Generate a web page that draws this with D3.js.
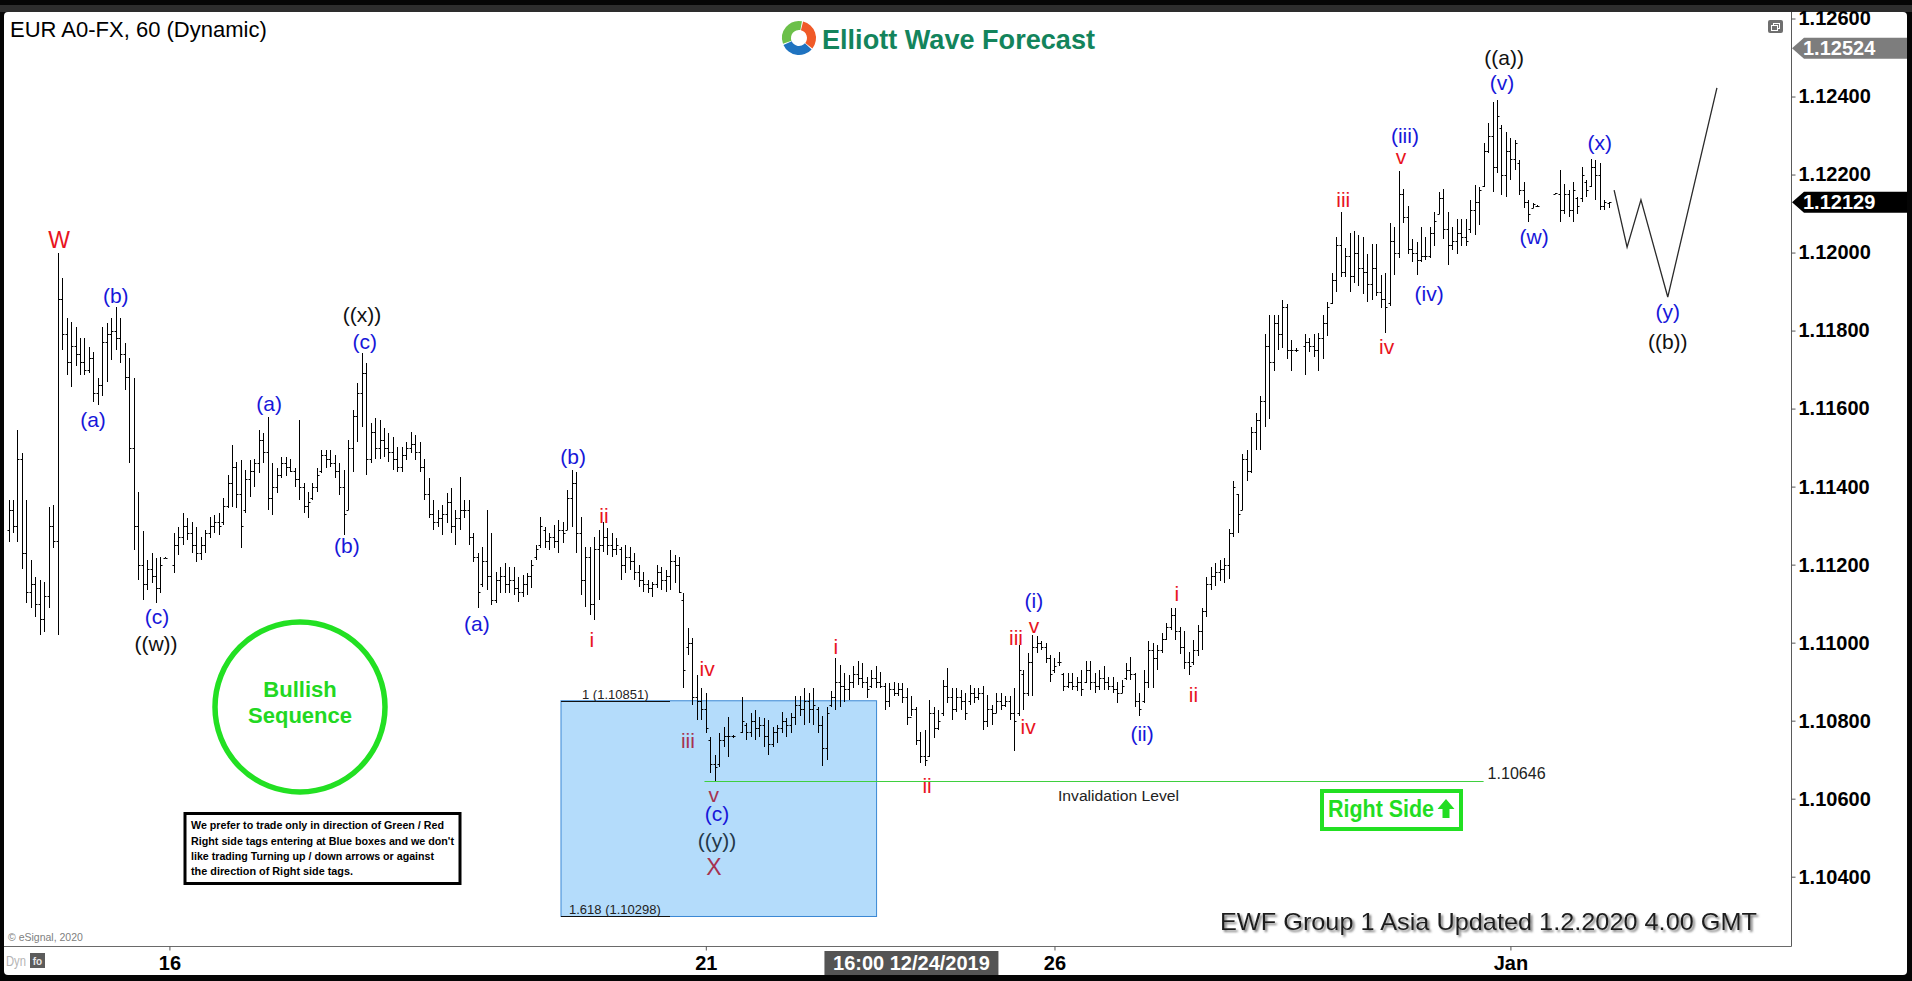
<!DOCTYPE html>
<html>
<head>
<meta charset="utf-8">
<title>EUR A0-FX, 60 (Dynamic)</title>
<script src="https://cdn.jsdelivr.net/npm/d3@7"></script>
<style>
  html, body { margin: 0; padding: 0; background: #000; overflow: hidden; }
  svg { display: block; }
  text { font-family: "Liberation Sans", Arial, sans-serif; }
</style>
</head>
<body>
<svg id="chart" width="1912" height="981"></svg>
<script>
// ---------------- hourly OHLC bars (null = no bar in that slot) ----------------
const barOpen = [
1.11290,1.11340,1.11300,1.11470,1.11230,1.11130,1.11150,1.11100,1.11060,1.11120,
1.11300,1.11260,1.11880,1.11790,1.11720,1.11760,1.11740,1.11720,1.11700,1.11730,
1.11640,1.11660,1.11770,1.11790,1.11800,1.11780,1.11740,1.11680,1.11500,1.11300,
1.11200,1.11150,1.11190,1.11170,1.11140,1.11218,null,1.11200,1.11250,1.11270,
1.11300,1.11280,1.11250,1.11230,1.11250,1.11280,1.11300,1.11310,1.11310,1.11350,
1.11410,1.11450,1.11380,1.11340,1.11420,1.11440,1.11460,1.11520,1.11490,1.11370,
1.11400,1.11430,1.11460,1.11450,1.11440,1.11420,1.11400,1.11350,1.11370,1.11400,
1.11440,1.11480,1.11470,1.11460,1.11440,1.11400,1.11340,1.11500,1.11580,1.11640,
1.11690,1.11470,1.11540,1.11500,1.11520,1.11500,1.11490,1.11470,1.11450,1.11480,
1.11500,1.11510,1.11490,1.11450,1.11380,1.11330,1.11310,1.11320,1.11330,1.11360,
1.11300,1.11320,1.11340,1.11340,1.11270,1.11220,1.11150,1.11210,1.11170,1.11110,
1.11160,1.11170,1.11150,1.11160,1.11140,1.11130,1.11150,1.11170,1.11220,1.11250,
1.11290,1.11260,1.11270,1.11260,1.11290,1.11290,1.11370,1.11410,1.11280,1.11160,
1.11220,1.11100,1.11240,1.11250,1.11270,1.11250,1.11240,1.11240,1.11200,1.11220,
1.11210,1.11180,1.11160,1.11150,1.11140,1.11150,1.11180,1.11160,1.11170,1.11210,
1.11200,1.11110,1.10990,1.11000,1.10860,1.10850,1.10830,1.10750,1.10690,1.10690,
1.10750,1.10760,1.10760,null,1.10770,1.10790,1.10770,1.10800,1.10780,1.10790,
1.10760,1.10740,1.10770,1.10780,1.10800,1.10790,1.10810,1.10840,1.10830,1.10850,
1.10830,1.10830,1.10790,1.10730,1.10840,1.10860,1.10900,1.10890,1.10880,1.10900,
1.10920,1.10910,1.10900,1.10890,1.10910,1.10900,1.10890,1.10850,1.10880,1.10870,
1.10880,1.10860,1.10810,1.10830,1.10750,1.10710,1.10710,1.10820,1.10780,1.10820,
1.10890,1.10860,1.10830,1.10860,1.10850,1.10850,1.10870,1.10860,1.10870,1.10800,
1.10830,1.10820,1.10850,1.10840,1.10850,1.10820,1.10820,1.10920,1.10870,1.10950,
1.10990,1.11000,1.10990,1.10960,1.10930,1.10950,1.10920,1.10890,1.10900,1.10890,
1.10900,1.10900,1.10930,1.10900,1.10890,1.10910,1.10900,1.10890,1.10880,1.10870,
1.10910,1.10930,1.10920,1.10850,1.10850,1.10900,1.10980,1.10960,1.10980,1.11010,
1.11040,1.11070,1.11030,1.10990,1.10950,1.10950,1.10980,1.11030,1.11080,1.11150,
1.11170,1.11180,1.11190,1.11200,1.11280,1.11380,1.11340,1.11470,1.11440,1.11540,
1.11570,1.11620,1.11760,1.11720,1.11820,1.11790,1.11860,1.11750,1.11750,null,
1.11760,1.11770,1.11760,1.11750,1.11780,1.11820,1.11870,1.11930,1.12020,1.11950,
1.11990,1.11940,1.12000,1.11960,1.11950,1.11920,1.11960,1.11900,1.11880,1.11870,
1.12030,1.12000,1.12150,1.12090,1.12010,1.12000,1.11980,1.11990,1.11990,1.12050,
1.12100,1.12140,1.12060,1.12020,1.12030,1.12050,1.12040,1.12060,1.12110,1.12130,
1.12170,1.12260,1.12300,1.12220,1.12320,1.12200,1.12260,1.12240,1.12230,1.12160,
1.12130,1.12115,1.12120,null,null,null,1.12151,1.12150,1.12110,1.12150,
1.12110,1.12140,1.12140,1.12180,1.12170,1.12220,1.12200,1.12120,1.12128
];
const barHigh = [
1.11366,1.11366,1.11545,1.11485,1.11366,1.11212,1.11169,1.11161,1.11156,1.11349,
1.11353,1.11998,1.11934,1.11831,1.11823,1.11810,1.11780,1.11780,1.11759,1.11746,
1.11678,1.11810,1.11819,1.11831,1.11861,1.11831,1.11767,1.11729,1.11678,1.11387,
1.11285,1.11212,1.11229,1.11216,1.11220,1.11220,null,1.11280,1.11297,1.11332,
1.11319,1.11310,1.11297,1.11272,1.11289,1.11323,1.11327,1.11332,1.11370,1.11430,
1.11507,1.11464,1.11468,1.11443,1.11468,1.11472,1.11545,1.11537,1.11579,1.11460,
1.11447,1.11477,1.11477,1.11472,1.11447,1.11571,1.11408,1.11387,1.11408,1.11447,
1.11494,1.11494,1.11494,1.11481,1.11460,1.11443,1.11520,1.11596,1.11665,1.11742,
1.11716,1.11562,1.11575,1.11571,1.11549,1.11537,1.11528,1.11502,1.11502,1.11515,
1.11541,1.11532,1.11515,1.11472,1.11421,1.11366,1.11340,1.11353,1.11383,1.11396,
1.11340,1.11425,1.11366,1.11366,1.11280,1.11229,1.11246,1.11340,1.11280,1.11182,
1.11195,1.11203,1.11195,1.11195,1.11169,1.11173,1.11178,1.11212,1.11250,1.11323,
1.11297,1.11280,1.11302,1.11314,1.11310,1.11391,1.11443,1.11438,1.11323,1.11246,
1.11246,1.11272,1.11289,1.11310,1.11293,1.11280,1.11267,1.11246,1.11250,1.11246,
1.11229,1.11199,1.11182,1.11161,1.11156,1.11199,1.11195,1.11186,1.11237,1.11225,
1.11220,1.11126,1.11037,1.11011,1.10917,1.10883,1.10870,1.10759,1.10712,1.10768,
1.10785,1.10810,1.10763,null,1.10861,1.10793,1.10819,1.10827,1.10810,1.10806,
1.10802,1.10785,1.10789,1.10823,1.10806,1.10819,1.10862,1.10862,1.10883,1.10870,
1.10883,1.10836,1.10811,1.10836,1.10875,1.10960,1.10943,1.10922,1.10918,1.10939,
1.10952,1.10947,1.10913,1.10930,1.10939,1.10926,1.10896,1.10896,1.10900,1.10896,
1.10896,1.10883,1.10862,1.10836,1.10772,1.10776,1.10853,1.10836,1.10828,1.10905,
1.10935,1.10883,1.10883,1.10879,1.10870,1.10892,1.10883,1.10883,1.10888,1.10866,
1.10841,1.10870,1.10870,1.10862,1.10862,1.10883,1.10994,1.10930,1.10973,1.11020,
1.11016,1.11003,1.10999,1.10969,1.10960,1.10977,1.10922,1.10922,1.10922,1.10913,
1.10930,1.10952,1.10952,1.10922,1.10930,1.10939,1.10913,1.10913,1.10900,1.10905,
1.10947,1.10964,1.10922,1.10870,1.10930,1.11003,1.10999,1.10994,1.11024,1.11050,
1.11088,1.11088,1.11040,1.11031,1.10976,1.11006,1.11045,1.11090,1.11169,1.11193,
1.11203,1.11213,1.11218,1.11292,1.11415,1.11381,1.11484,1.11494,1.11553,1.11588,
1.11632,1.11790,1.11839,1.11839,1.11839,1.11878,1.11869,1.11775,1.11755,null,
1.11790,1.11780,1.11790,1.11795,1.11839,1.11874,1.11947,1.12041,1.12105,1.12012,
1.12051,1.12056,1.12046,1.12041,1.11997,1.12021,1.12021,1.11943,1.11947,1.12076,
1.12066,1.12209,1.12164,1.12120,1.12036,1.12026,1.12066,1.12041,1.12066,1.12105,
1.12155,1.12164,1.12105,1.12066,1.12085,1.12085,1.12085,1.12135,1.12174,1.12169,
1.12280,1.12331,1.12387,1.12391,1.12327,1.12310,1.12293,1.12289,1.12237,1.12182,
1.12135,1.12126,1.12122,null,null,null,1.12153,1.12212,1.12177,1.12160,
1.12182,1.12143,1.12220,1.12186,1.12241,1.12237,1.12229,1.12135,1.12130
];
const barLow = [
1.11259,1.11280,1.11259,1.11190,1.11101,1.11088,1.11067,1.11020,1.11028,1.11088,
1.11242,1.11020,1.11750,1.11686,1.11656,1.11708,1.11686,1.11686,1.11690,1.11618,
1.11609,1.11631,1.11669,1.11725,1.11750,1.11716,1.11648,1.11460,1.11237,1.11161,
1.11109,1.11135,1.11152,1.11101,1.11126,1.11216,null,1.11178,1.11225,1.11250,
1.11263,1.11229,1.11208,1.11212,1.11229,1.11267,1.11280,1.11276,1.11302,1.11344,
1.11349,1.11344,1.11242,1.11332,1.11374,1.11400,1.11434,1.11460,1.11340,1.11327,
1.11383,1.11421,1.11426,1.11438,1.11400,1.11366,1.11332,1.11319,1.11366,1.11387,
1.11434,1.11447,1.11451,1.11421,1.11378,1.11276,1.11340,1.11438,1.11515,1.11554,
1.11430,1.11460,1.11472,1.11472,1.11477,1.11464,1.11443,1.11438,1.11438,1.11468,
1.11485,1.11468,1.11438,1.11366,1.11319,1.11289,1.11297,1.11276,1.11306,1.11280,
1.11250,1.11289,1.11319,1.11250,1.11208,1.11088,1.11143,1.11135,1.11096,1.11101,
1.11126,1.11126,1.11126,1.11122,1.11105,1.11118,1.11122,1.11139,1.11212,1.11242,
1.11242,1.11237,1.11242,1.11229,1.11255,1.11289,1.11297,1.11229,1.11122,1.11092,
1.11071,1.11058,1.11109,1.11233,1.11225,1.11220,1.11225,1.11161,1.11178,1.11186,
1.11161,1.11143,1.11131,1.11126,1.11118,1.11139,1.11135,1.11131,1.11135,1.11152,
1.11126,1.10883,1.10968,1.10840,1.10802,1.10802,1.10768,1.10665,1.10646,1.10682,
1.10733,1.10708,1.10755,null,1.10768,1.10750,1.10759,1.10750,1.10759,1.10733,
1.10712,1.10733,1.10742,1.10768,1.10759,1.10768,1.10789,1.10811,1.10789,1.10794,
1.10789,1.10768,1.10683,1.10700,1.10836,1.10828,1.10836,1.10849,1.10853,1.10883,
1.10892,1.10883,1.10858,1.10883,1.10883,1.10883,1.10828,1.10836,1.10862,1.10862,
1.10845,1.10789,1.10811,1.10738,1.10691,1.10683,1.10708,1.10755,1.10776,1.10811,
1.10845,1.10802,1.10823,1.10828,1.10802,1.10841,1.10845,1.10853,1.10776,1.10785,
1.10789,1.10819,1.10828,1.10836,1.10802,1.10721,1.10811,1.10828,1.10862,1.10862,
1.10973,1.10982,1.10947,1.10900,1.10922,1.10939,1.10875,1.10883,1.10879,1.10875,
1.10862,1.10896,1.10879,1.10870,1.10879,1.10879,1.10879,1.10870,1.10845,1.10870,
1.10905,1.10905,1.10836,1.10811,1.10845,1.10883,1.10883,1.10930,1.10973,1.11007,
1.11033,1.11007,1.10971,1.10932,1.10917,1.10942,1.10966,1.10981,1.11065,1.11134,
1.11144,1.11159,1.11154,1.11164,1.11272,1.11282,1.11341,1.11415,1.11435,1.11494,
1.11494,1.11553,1.11573,1.11696,1.11750,1.11755,1.11726,1.11696,1.11745,null,
1.11686,1.11745,1.11731,1.11696,1.11726,1.11785,1.11869,1.11898,1.11938,1.11938,
1.11898,1.11923,1.11913,1.11893,1.11874,1.11878,1.11888,1.11859,1.11795,1.11864,
1.11943,1.11987,1.12076,1.11997,1.11977,1.11943,1.11977,1.11982,1.11987,1.12016,
1.12100,1.12036,1.11967,1.12007,1.11997,1.12016,1.12016,1.12051,1.12046,1.12071,
1.12169,1.12254,1.12156,1.12203,1.12148,1.12143,1.12186,1.12212,1.12148,1.12113,
1.12079,1.12113,1.12118,null,null,null,1.12150,1.12079,1.12100,1.12092,
1.12079,1.12100,1.12130,1.12143,1.12169,1.12135,1.12109,1.12109,1.12113
];
const barClose = [
1.11340,1.11300,1.11470,1.11230,1.11130,1.11150,1.11100,1.11060,1.11120,1.11300,
1.11260,1.11880,1.11790,1.11720,1.11760,1.11740,1.11720,1.11700,1.11730,1.11640,
1.11660,1.11770,1.11790,1.11800,1.11780,1.11740,1.11680,1.11500,1.11300,1.11200,
1.11150,1.11190,1.11170,1.11140,1.11200,1.11218,null,1.11250,1.11270,1.11300,
1.11280,1.11250,1.11230,1.11250,1.11280,1.11300,1.11310,1.11300,1.11350,1.11410,
1.11450,1.11380,1.11300,1.11420,1.11440,1.11460,1.11520,1.11490,1.11370,1.11400,
1.11430,1.11460,1.11450,1.11440,1.11420,1.11400,1.11350,1.11360,1.11400,1.11430,
1.11480,1.11470,1.11460,1.11440,1.11400,1.11330,1.11500,1.11580,1.11640,1.11690,
1.11470,1.11540,1.11500,1.11520,1.11500,1.11490,1.11470,1.11450,1.11480,1.11500,
1.11510,1.11490,1.11450,1.11380,1.11330,1.11310,1.11320,1.11330,1.11360,1.11300,
1.11320,1.11340,1.11340,1.11270,1.11220,1.11130,1.11210,1.11170,1.11110,1.11160,
1.11170,1.11150,1.11160,1.11140,1.11130,1.11150,1.11170,1.11200,1.11240,1.11300,
1.11260,1.11270,1.11260,1.11290,1.11280,1.11370,1.11410,1.11280,1.11160,1.11220,
1.11100,1.11240,1.11250,1.11270,1.11250,1.11240,1.11250,1.11200,1.11220,1.11210,
1.11180,1.11160,1.11150,1.11140,1.11150,1.11180,1.11160,1.11170,1.11210,1.11200,
1.11130,1.10930,1.11000,1.10860,1.10850,1.10830,1.10780,1.10690,1.10680,1.10750,
1.10760,1.10760,1.10760,null,1.10800,1.10770,1.10800,1.10780,1.10790,1.10760,
1.10740,1.10770,1.10780,1.10800,1.10790,1.10810,1.10840,1.10830,1.10850,1.10830,
1.10840,1.10790,1.10730,1.10820,1.10860,1.10900,1.10890,1.10880,1.10900,1.10920,
1.10910,1.10900,1.10880,1.10910,1.10900,1.10890,1.10850,1.10880,1.10870,1.10880,
1.10860,1.10810,1.10830,1.10750,1.10710,1.10700,1.10820,1.10780,1.10800,1.10890,
1.10860,1.10830,1.10860,1.10850,1.10820,1.10870,1.10860,1.10870,1.10800,1.10830,
1.10820,1.10850,1.10840,1.10850,1.10820,1.10800,1.10930,1.10870,1.10950,1.10990,
1.11000,1.10990,1.10960,1.10920,1.10940,1.10950,1.10890,1.10900,1.10890,1.10900,
1.10880,1.10930,1.10900,1.10890,1.10910,1.10900,1.10890,1.10880,1.10870,1.10890,
1.10930,1.10920,1.10850,1.10830,1.10900,1.10980,1.10960,1.10980,1.11010,1.11040,
1.11070,1.11030,1.10990,1.10950,1.10940,1.10980,1.11030,1.11080,1.11150,1.11170,
1.11180,1.11190,1.11200,1.11280,1.11400,1.11330,1.11470,1.11440,1.11540,1.11570,
1.11620,1.11760,1.11720,1.11820,1.11790,1.11860,1.11750,1.11750,1.11750,null,
1.11770,1.11760,1.11750,1.11780,1.11820,1.11860,1.11930,1.12020,1.11950,1.11990,
1.11940,1.12000,1.11960,1.11950,1.11920,1.11960,1.11900,1.11880,1.11860,1.12030,
1.12000,1.12150,1.12090,1.12010,1.12000,1.11980,1.11990,1.11990,1.12050,1.12080,
1.12140,1.12060,1.12020,1.12030,1.12050,1.12040,1.12030,1.12110,1.12130,1.12160,
1.12260,1.12300,1.12220,1.12350,1.12200,1.12260,1.12240,1.12280,1.12160,1.12130,
1.12100,1.12124,1.12119,null,null,null,1.12152,1.12110,1.12150,1.12110,
1.12160,1.12120,1.12200,1.12160,1.12220,1.12200,1.12120,1.12130,1.12129
];

// ---------------- axes ----------------
const priceTicks = [1.104, 1.106, 1.108, 1.110, 1.112, 1.114, 1.116, 1.118, 1.120, 1.122, 1.124, 1.126];
const dayTicks = [36, 156, 234, 336];          // bar slots where a new day starts
const dayLabels = ["16", "21", "26", "Jan"];
const cursorBar = 202;
const cursorLabel = "16:00 12/24/2019";

// ---------------- levels ----------------
const lastPrice = 1.12129;
const markerPrice = 1.12524;
const invalidation = 1.10646;
const invalidSpan = [155.7, 330.0];
const fibLevels = [["1", 1.10851], ["1.618", 1.10298]];
const boxSpan = [123.6, 194.2];

// ---------------- wave count: [text, bar slot, price, colour key] ----------------
const waveLabels = [
  ["W", 11.3, 1.12032, "red"],
  ["(b)", 24.0, 1.11889, "blue"],
  ["(a)", 18.9, 1.11573, "blue"],
  ["((x))", 79.1, 1.11840, "black"],
  ["(c)", 79.7, 1.11771, "blue"],
  ["(a)", 58.3, 1.11612, "blue"],
  ["(b)", 75.7, 1.11248, "blue"],
  ["(c)", 33.2, 1.11066, "blue"],
  ["((w))", 33.0, 1.10999, "black"],
  ["(b)", 126.3, 1.11476, "blue"],
  ["(a)", 104.8, 1.11050, "blue"],
  ["i", 130.5, 1.11009, "red"],
  ["ii", 133.2, 1.11325, "red"],
  ["iv", 156.3, 1.10935, "red"],
  ["iii", 152.0, 1.10750, "crimson"],
  ["v", 157.8, 1.10612, "crimson"],
  ["(c)", 158.5, 1.10561, "blue"],
  ["((y))", 158.5, 1.10492, "slate"],
  ["X", 157.8, 1.10425, "crimson"],
  ["i", 185.1, 1.10989, "red"],
  ["ii", 205.5, 1.10633, "red"],
  ["iii", 225.4, 1.11014, "red"],
  ["iv", 228.1, 1.10784, "red"],
  ["v", 229.4, 1.11045, "red"],
  ["(i)", 229.4, 1.11109, "blue"],
  ["(ii)", 253.6, 1.10768, "blue"],
  ["i", 261.4, 1.11125, "red"],
  ["ii", 265.1, 1.10868, "red"],
  ["iii", 298.6, 1.12135, "red"],
  ["iv", 308.3, 1.11760, "red"],
  ["v", 311.5, 1.12245, "red"],
  ["(iii)", 312.4, 1.12301, "blue"],
  ["(iv)", 317.8, 1.11896, "blue"],
  ["(v)", 334.1, 1.12435, "blue"],
  ["((a))", 334.6, 1.12501, "black"],
  ["(w)", 341.3, 1.12040, "blue"],
  ["(x)", 356.0, 1.12283, "blue"],
  ["(y)", 371.2, 1.11848, "blue"],
  ["((b))", 371.2, 1.11773, "black"]
];

// expected path: [bar slot, price]
const projection = [[359.2, 1.12160], [362.1, 1.12014], [365.2, 1.12135], [371.2, 1.11886], [382.2, 1.12422]];

// ======================================================================
const W = 1912, H = 981;
const plotRight = 1791, plotBottom = 946;
const svg = d3.select("#chart");

const x = d3.scaleLinear().domain([0, 358]).range([8.5, 8.5 + 358 * 4.47]);
const y = d3.scaleLinear().domain([1.104, 1.126]).range([876.7, 18.5]);
const fmt5 = d3.format(".5f");

const labelColors = { red: "#e8141e", blue: "#1717d9", black: "#111111", crimson: "#a6324f", slate: "#24384a" };

const defs = svg.append("defs");
defs.append("clipPath").attr("id", "plotClip")
  .append("rect").attr("x", 4).attr("y", 12).attr("width", plotRight - 4).attr("height", plotBottom - 12);
const sh = defs.append("filter").attr("id", "shadow").attr("x", "-5%").attr("y", "-30%").attr("width", "110%").attr("height", "160%");
sh.append("feDropShadow").attr("dx", 2).attr("dy", 2).attr("stdDeviation", 1.3)
  .attr("flood-color", "#6e6e6e").attr("flood-opacity", 0.9);

// window frame
svg.append("rect").attr("width", W).attr("height", H).attr("fill", "#050505");
svg.append("rect").attr("x", 0).attr("y", 5).attr("width", W).attr("height", 7).attr("fill", "#2d2d2d");
svg.append("rect").attr("x", 4).attr("y", 12).attr("width", 1903).attr("height", 963).attr("rx", 4).attr("fill", "#ffffff");

// title
svg.append("text").attr("x", 10).attr("y", 37).attr("font-size", 22).attr("fill", "#000")
  .text("EUR A0-FX, 60 (Dynamic)");

// logo
const logo = svg.append("g").attr("transform", "translate(799,38)");
const arc = d3.arc().innerRadius(8).outerRadius(17);
const deg = Math.PI / 180;
[["#6cc04a", -110, 10], ["#f05a28", 14, 128], ["#1f73c0", 132, 246]].forEach(([c, a0, a1]) => {
  logo.append("path").attr("d", arc({ startAngle: a0 * deg, endAngle: a1 * deg })).attr("fill", c);
});
svg.append("text").attr("x", 822).attr("y", 48.5).attr("font-size", 27).attr("font-weight", "bold")
  .attr("fill", "#13845c").attr("textLength", 273).attr("lengthAdjust", "spacingAndGlyphs")
  .text("Elliott Wave Forecast");

// small window icon
svg.append("rect").attr("x", 1768).attr("y", 20).attr("width", 15).attr("height", 13).attr("rx", 2).attr("fill", "#6f6f6f");
svg.append("rect").attr("x", 1773.5).attr("y", 23.5).attr("width", 6).attr("height", 5).attr("fill", "none").attr("stroke", "#fff").attr("stroke-width", 1);
svg.append("rect").attr("x", 1771.5).attr("y", 25.5).attr("width", 6).attr("height", 5).attr("fill", "#6f6f6f").attr("stroke", "#fff").attr("stroke-width", 1);

const plot = svg.append("g").attr("clip-path", "url(#plotClip)");

// Fibonacci extension box
const fTop = y(fibLevels[0][1]), fBot = y(fibLevels[1][1]);
const bx0 = x(boxSpan[0]), bx1 = x(boxSpan[1]);
plot.append("rect").attr("x", bx0).attr("y", fTop).attr("width", bx1 - bx0).attr("height", fBot - fTop)
  .attr("fill", "#b4dcfb").attr("stroke", "#3a88d4").attr("stroke-width", 1);
fibLevels.forEach(([ratio, price], k) => {
  const yy = Math.round(y(price)) + 0.5;
  plot.append("line").attr("x1", bx0).attr("x2", bx0 + 109).attr("y1", yy).attr("y2", yy)
    .attr("stroke", "#111").attr("stroke-width", 1);
  plot.append("text").attr("x", bx0 + (k === 0 ? 21 : 8)).attr("y", yy - 3).attr("font-size", 13).attr("fill", "#222")
    .text(`${ratio} (${fmt5(price)})`);
});

// invalidation level
const yInv = Math.round(y(invalidation)) + 0.5;
plot.append("line").attr("x1", x(invalidSpan[0])).attr("x2", x(invalidSpan[1])).attr("y1", yInv).attr("y2", yInv)
  .attr("stroke", "#3fcf3f").attr("stroke-width", 1.2);
plot.append("text").attr("x", x(invalidSpan[1]) + 4).attr("y", yInv - 2.5).attr("font-size", 16).attr("fill", "#222")
  .attr("textLength", 58).attr("lengthAdjust", "spacingAndGlyphs").text(fmt5(invalidation));
plot.append("text").attr("x", 1058).attr("y", 801).attr("font-size", 15.5).attr("fill", "#222")
  .attr("textLength", 121).attr("lengthAdjust", "spacingAndGlyphs").text("Invalidation Level");

// OHLC bars
const bars = barHigh.map((h, i) => ({ i, o: barOpen[i], h, l: barLow[i], c: barClose[i] })).filter(d => d.h != null);
const px = i => Math.round(x(i)) + 0.5;
plot.append("g").selectAll("path").data(bars).join("path")
  .attr("d", d => {
    const X = px(d.i);
    const yh = Math.round(y(d.h)), yl = Math.max(Math.round(y(d.l)), yh + 1);
    const yo = Math.round(y(d.o)) + 0.5, yc = Math.round(y(d.c)) + 0.5;
    return `M${X},${yh}V${yl}M${X - 2},${yo}H${X}M${X},${yc}H${X + 2}`;
  })
  .attr("fill", "none").attr("stroke", "#000").attr("stroke-width", 1);

// expected path
plot.append("path").datum(projection)
  .attr("d", d3.line().x(d => x(d[0])).y(d => y(d[1])))
  .attr("fill", "none").attr("stroke", "#2a2a2a").attr("stroke-width", 1.3);

// wave labels
plot.append("g").selectAll("text").data(waveLabels).join("text")
  .attr("x", d => x(d[1])).attr("y", d => y(d[2]))
  .attr("text-anchor", "middle").attr("dominant-baseline", "central")
  .attr("font-size", d => /^[WX]$/.test(d[0]) ? 23 : 21)
  .attr("fill", d => labelColors[d[3]])
  .text(d => d[0]);

// Bullish Sequence badge
svg.append("circle").attr("cx", 300).attr("cy", 707).attr("r", 85)
  .attr("fill", "none").attr("stroke", "#22e022").attr("stroke-width", 5.5);
[["Bullish", 689], ["Sequence", 715]].forEach(([t, yy]) => {
  svg.append("text").attr("x", 300).attr("y", yy).attr("text-anchor", "middle").attr("dominant-baseline", "central")
    .attr("font-size", 22).attr("font-weight", "bold").attr("fill", "#22d822").text(t);
});

// disclaimer box
svg.append("rect").attr("x", 185).attr("y", 813.5).attr("width", 275).attr("height", 70)
  .attr("fill", "#fff").attr("stroke", "#000").attr("stroke-width", 3);
[
  ["We prefer to trade only in direction of Green / Red", 829, 253],
  ["Right side tags entering at Blue boxes and we don't", 844.5, 263],
  ["like trading Turning up / down arrows or against", 860, 243],
  ["the direction of Right side tags.", 875, 162]
].forEach(([t, yy, w]) => {
  svg.append("text").attr("x", 191).attr("y", yy).attr("font-size", 11.5).attr("font-weight", "bold")
    .attr("font-family", "'Liberation Sans Narrow','Arial Narrow','Liberation Sans',sans-serif")
    .attr("textLength", w).attr("lengthAdjust", "spacingAndGlyphs").attr("fill", "#000").text(t);
});

// Right Side tag
svg.append("rect").attr("x", 1322).attr("y", 791).attr("width", 139).attr("height", 38)
  .attr("fill", "#fff").attr("stroke", "#22e022").attr("stroke-width", 4);
svg.append("text").attr("x", 1328).attr("y", 817).attr("font-size", 24).attr("font-weight", "bold")
  .attr("font-family", "'Liberation Sans Narrow','Arial Narrow','Liberation Sans',sans-serif")
  .attr("textLength", 106).attr("lengthAdjust", "spacingAndGlyphs").attr("fill", "#22dd22").text("Right Side");
svg.append("path").attr("d", "M1446,799 L1454.5,809 L1449.5,809 L1449.5,818 L1442.5,818 L1442.5,809 L1437.5,809 Z")
  .attr("fill", "#22dd22");

// update stamp
svg.append("text").attr("x", 1220).attr("y", 930).attr("font-size", 24).attr("fill", "#1e1e1e")
  .attr("textLength", 537).attr("lengthAdjust", "spacingAndGlyphs").attr("filter", "url(#shadow)")
  .text("EWF Group 1 Asia Updated 1.2.2020 4.00 GMT");

// copyright
svg.append("text").attr("x", 8).attr("y", 941).attr("font-size", 10.5).attr("fill", "#808080").text("© eSignal, 2020");

// axis frame lines
svg.append("line").attr("x1", plotRight + 0.5).attr("x2", plotRight + 0.5).attr("y1", 12).attr("y2", plotBottom + 0.5)
  .attr("stroke", "#5a5a5a").attr("stroke-width", 1);
svg.append("line").attr("x1", 4).attr("x2", plotRight + 0.5).attr("y1", plotBottom + 0.5).attr("y2", plotBottom + 0.5)
  .attr("stroke", "#6a6a6a").attr("stroke-width", 1);

// price axis
const yAxis = d3.axisRight(y).tickValues(priceTicks).tickFormat(fmt5).tickSize(4).tickPadding(3);
const gy = svg.append("g").attr("transform", `translate(${plotRight + 0.5},0)`).call(yAxis);
gy.select(".domain").remove();
gy.selectAll(".tick line").attr("stroke", "#555");
gy.selectAll(".tick text").attr("font-family", "'Liberation Sans',Arial,sans-serif")
  .attr("font-size", 20).attr("font-weight", "bold").attr("fill", "#000");

// time axis
const xAxis = d3.axisBottom(x).tickValues(dayTicks).tickFormat((d, k) => dayLabels[k]).tickSize(4).tickPadding(5);
const gx = svg.append("g").attr("transform", `translate(0,${plotBottom + 0.5})`).call(xAxis);
gx.select(".domain").remove();
gx.selectAll(".tick line").attr("stroke", "#555");
gx.selectAll(".tick text").attr("font-family", "'Liberation Sans',Arial,sans-serif")
  .attr("font-size", 20).attr("font-weight", "bold").attr("fill", "#000");

// cursor time label
const cx = x(cursorBar);
svg.append("rect").attr("x", cx - 87).attr("y", 951).attr("width", 174).attr("height", 24).attr("fill", "#545454");
svg.append("text").attr("x", cx).attr("y", 970).attr("text-anchor", "middle").attr("font-size", 20)
  .attr("font-weight", "bold").attr("fill", "#fff").text(cursorLabel);

// price flags
function flag(price, fill) {
  const yy = y(price);
  svg.append("path").attr("d", `M${plotRight + 1},${yy} L${plotRight + 13},${yy - 10.5} L1907,${yy - 10.5} L1907,${yy + 10.5} L${plotRight + 13},${yy + 10.5} Z`)
    .attr("fill", fill);
  svg.append("text").attr("x", plotRight + 12).attr("y", yy).attr("dominant-baseline", "central")
    .attr("font-size", 20).attr("font-weight", "bold").attr("fill", "#fff").text(fmt5(price));
}
flag(markerPrice, "#7d7d7d");
flag(lastPrice, "#000");

// Dyn marker
svg.append("text").attr("x", 6).attr("y", 966).attr("font-size", 14).attr("fill", "#b4b4b4")
  .attr("textLength", 20).attr("lengthAdjust", "spacingAndGlyphs").text("Dyn");
svg.append("rect").attr("x", 30).attr("y", 953).attr("width", 15).attr("height", 15).attr("fill", "#5c5c5c");
svg.append("text").attr("x", 37.5).attr("y", 965).attr("text-anchor", "middle").attr("font-size", 10)
  .attr("font-weight", "bold").attr("fill", "#e8e8e8").text("fo");
</script>
</body>
</html>
